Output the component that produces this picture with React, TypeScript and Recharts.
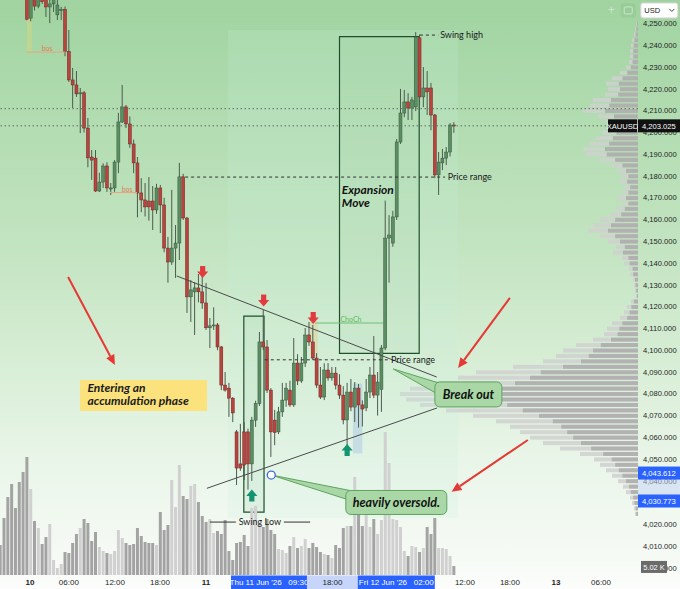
import React from 'react';
import { ComposedChart, Bar, XAxis, YAxis, ReferenceLine, ReferenceArea, ReferenceDot, Cell } from 'recharts';

const W = 680;
const H = 589;
const AXIS_W = 42;
const AXIS_H = 14;
const X_MIN = -7.16;
const X_MAX = 160.2;
const X_RIGHT = 171.2;
const Y_MIN = 3996.8;
const Y_MAX = 4260.8;

// candle index of the first entry (the first 7 are above the visible price range)
const FIRST_INDEX = -7;
// [open, high, low, close] - XAUUSD 30m
const CANDLES: number[][] = [
  [4300, 4303, 4294, 4296], [4296, 4298, 4287, 4289], [4289, 4292, 4281, 4283], [4283, 4286, 4275, 4277],
  [4277, 4280, 4272, 4274], [4275, 4278, 4268, 4270], [4271, 4273, 4265, 4267],
  [4270, 4274, 4251.5, 4252], [4252.5, 4266, 4251, 4263], [4263, 4265, 4256, 4258], [4258, 4266, 4257, 4262],
  [4262, 4265, 4259, 4260], [4262, 4266, 4253, 4257.6], [4257.6, 4262, 4250.2, 4259], [4259, 4265, 4255.3, 4261],
  [4254, 4262, 4251.6, 4258.5], [4255.9, 4257.6, 4251.6, 4256.5], [4256.5, 4257.8, 4235, 4237.1], [4237.1, 4247, 4223.2, 4224.1],
  [4224.1, 4229.6, 4211.2, 4221.8], [4221.8, 4228.2, 4216.3, 4217.7], [4217.7, 4220.4, 4199.7, 4218.2], [4218.2, 4219, 4200, 4202],
  [4202, 4206.6, 4184, 4188.3], [4188.7, 4191.9, 4178.2, 4187.3], [4188.2, 4191.9, 4172.7, 4173.1], [4173.1, 4181.5, 4172.7, 4177.2],
  [4177.2, 4185.8, 4174.5, 4184.6], [4184.6, 4186.3, 4172.7, 4174.5], [4174, 4176.8, 4171.3, 4174.5], [4174.5, 4187.3, 4172.7, 4186.4],
  [4186.4, 4209, 4181.3, 4204.8], [4204.8, 4221.8, 4204.3, 4211.7], [4211.7, 4212.6, 4202, 4203.9], [4203.9, 4207.4, 4192.9, 4194.7],
  [4194.7, 4196.7, 4181.3, 4186], [4186, 4188.7, 4161, 4172.2], [4172.2, 4179, 4163.4, 4169], [4169, 4176.8, 4161.4, 4165.8],
  [4168.5, 4179.5, 4159.5, 4165.8], [4168.5, 4175.4, 4155.2, 4164.4], [4164.4, 4176.4, 4162.6, 4174.5], [4174.5, 4175.9, 4153.8, 4166.7],
  [4166.7, 4170, 4145, 4146.9], [4146.9, 4152, 4131, 4140.5], [4140.5, 4173.6, 4139.2, 4146.9], [4146.9, 4157.5, 4133.2, 4149.2],
  [4149.2, 4186, 4141.4, 4179.6], [4179.6, 4181, 4159.8, 4160.7], [4160.7, 4161.2, 4117.1, 4124.5], [4124.5, 4132.2, 4113, 4127.7],
  [4126.8, 4131.3, 4107, 4128.6], [4128.6, 4135, 4122, 4126.8], [4126.8, 4137.7, 4119, 4121.7], [4121.7, 4130.9, 4109.3, 4110.3],
  [4110.3, 4114.8, 4101, 4111.2], [4111.2, 4119.7, 4109.3, 4111.6], [4111.6, 4112.5, 4100, 4101.5], [4101.5, 4102, 4081.7, 4084],
  [4084, 4090, 4081, 4081.7], [4082.6, 4085, 4069.4, 4078], [4078, 4078.5, 4067, 4071.2], [4062.5, 4063.4, 4038.1, 4045.9],
  [4047.8, 4066.2, 4044.6, 4045.9], [4062.5, 4067, 4040.4, 4047.3], [4062.5, 4064, 4036, 4047.8], [4047.8, 4069.4, 4040, 4067.9],
  [4067.9, 4076.8, 4064.8, 4075.5], [4075.5, 4108.4, 4074.4, 4103.8], [4103.8, 4118.5, 4100.1, 4101.5], [4101.5, 4104.7, 4080.4, 4081.7],
  [4081.7, 4082.6, 4051, 4062.5], [4067.9, 4072.6, 4056.4, 4062.2], [4062.5, 4074, 4061.5, 4071.7], [4071.7, 4085, 4069.4, 4077.1],
  [4077.1, 4085, 4074, 4082.6], [4081.7, 4086, 4074, 4074.9], [4074.9, 4105.6, 4074, 4094.1], [4094.1, 4098.2, 4084, 4085.9],
  [4085.9, 4096.9, 4085, 4094.1], [4094.1, 4110.2, 4092.3, 4107], [4107, 4113, 4102, 4103.8], [4103.8, 4111.6, 4095.5, 4096.4],
  [4096.4, 4098.7, 4082.6, 4084], [4084, 4092.3, 4077.6, 4078.5], [4078.5, 4094, 4077.1, 4090.9], [4090.9, 4094.1, 4086, 4087.3],
  [4087.3, 4092.3, 4086, 4089.5], [4089.5, 4092.3, 4082, 4084], [4084, 4089, 4077.6, 4079.4], [4079.4, 4083.5, 4066, 4068],
  [4068, 4085, 4055.6, 4080.8], [4080.8, 4086.8, 4072, 4073.9], [4073.9, 4085.4, 4067, 4082.6], [4082.6, 4084.5, 4064.5, 4074.9],
  [4074.9, 4077, 4065, 4073], [4073.5, 4086.8, 4072, 4080.8], [4080.8, 4092.3, 4078, 4088.6], [4088.6, 4106.5, 4078, 4079.4],
  [4079.4, 4090, 4070, 4085.4], [4082, 4102.4, 4071.7, 4101], [4101, 4168.7, 4100, 4151.5], [4151.5, 4162, 4131, 4152.9],
  [4149.2, 4164, 4147.5, 4161.2], [4161.2, 4197, 4159.8, 4195.6], [4195.6, 4220, 4194.7, 4208.9], [4208.9, 4219.5, 4207, 4214],
  [4214, 4218, 4205.7, 4211.2], [4211.2, 4216.3, 4205.7, 4214.9], [4211.7, 4246.1, 4209.8, 4243.8], [4243.4, 4245, 4212.5, 4216.3],
  [4216.3, 4230, 4211.6, 4220.4], [4220.4, 4228.2, 4208, 4218.6], [4220.4, 4222.7, 4201, 4208], [4208, 4208.5, 4179, 4180.5],
  [4180.5, 4191, 4171.3, 4186.4], [4186, 4192.4, 4182.7, 4188.2], [4188.2, 4193.3, 4185, 4191], [4191, 4204.3, 4189, 4203.4],
  [4203.4, 4204.7, 4199.8, 4203.0],
];

const VOLUME: number[] = [
  30, 57, 78, 91, 67, 93, 103,
  118, 86, 54, 47, 31, 38, 51, 15, 7, 11, 23, 22, 32, 41, 47, 56, 52, 34, 43, 28, 24, 22, 21, 24,
  45, 37, 32, 30, 31, 47, 39, 33, 32, 32, 30, 63, 45, 50, 95, 68, 110, 79, 76, 89, 91, 73, 59, 53,
  56, 42, 44, 41, 55, 24, 15, 32, 33, 40, 29, 67, 69, 52, 48, 56, 45, 41, 26, 25, 22, 29, 38, 27,
  29, 36, 27, 32, 28, 23, 21, 20, 17, 30, 27, 47, 49, 49, 98, 68, 49, 72, 48, 56, 41, 55, 143, 112,
  56, 55, 48, 24, 19, 29, 28, 23, 27, 48, 41, 57, 27, 27, 26, 19, 9,
];

const PRICE_TICKS = [
  4000, 4010, 4020, 4030, 4040, 4050, 4060, 4070, 4080, 4090, 4100, 4110, 4120,
  4130, 4140, 4150, 4160, 4170, 4180, 4190, 4200, 4210, 4220, 4230, 4240, 4250,
];
const TIME_TICKS = [0.7, 10.9, 23.0, 34.8, 46.9, 114.8, 126.6, 138.7, 150.5];
const TIME_LABELS = ['10', '06:00', '12:00', '18:00', '11', '12:00', '18:00', '13', '06:00'];
const DAY_LABELS = ['10', '11', '13'];

// visible-range volume profile, price bins from the top
const PROFILE_TOP = 4250;
const PROFILE_STEP = 2.5;
const PROFILE_SIZE = [
  2, 3, 4, 6, 7, 8, 8, 9, 12, 18, 26, 32, 30, 33, 45, 48, 55, 40, 32, 30, 36, 42, 48, 55, 52, 38, 26, 20,
  16, 18, 13, 16, 20, 16, 22, 28, 38, 45, 50, 38, 30, 22, 25, 16, 14, 9, 8, 5, 4, 3, 2, 7, 11, 14, 18,
  26, 31, 34, 45, 62, 75, 82, 95, 125, 162, 180, 205, 228, 238, 232, 218, 192, 165, 142, 128, 118, 108,
  95, 78, 58, 44, 38, 32, 26, 20, 15, 12, 8, 6, 4, 3,
];

const LAST_PRICE = 4203.025;
const LEVEL_PRICE = 4210.9;
const CROSS_HIGH = 4043.612;
const CROSS_LOW = 4030.773;

const RED = '#b9443f';
const RED_EDGE = '#6e2623';
const GREEN = '#5b8f63';
const GREEN_EDGE = '#35573b';
const WICK = '#4b5c4e';
const VOL_UP = '#d0d0d0';
const VOL_DOWN = '#a3a3a3';
const ARROW_RED = '#e53935';
const CALLOUT_FILL = '#a9d8a6';
const CALLOUT_STROKE = '#5ea35e';
const AXIS_FONT = '"Liberation Sans", Arial, sans-serif';
const NOTE_FONT = 'Lato, "Open Sans", sans-serif';

const candleData = CANDLES.map(([o, h, l, c], k) => ({
  i: FIRST_INDEX + k, o, h, l, c, range: [l, h], vol: VOLUME[k], up: c >= o,
}));
const profileData = PROFILE_SIZE.map((w, k) => ({ p: PROFILE_TOP - k * PROFILE_STEP, w }));

const CandleShape = (props: any) => {
  const { x, y, width, height, payload } = props;
  if (x == null || y == null || !payload) return null;
  const top = Math.min(y, y + height);
  const hh = Math.abs(height);
  const { o, h, l, c } = payload;
  const ppu = hh / (h - l || 1);
  const bTop = top + (h - Math.max(o, c)) * ppu;
  const bBot = top + (h - Math.min(o, c)) * ppu;
  const up = c >= o;
  const cx = x + width / 2;
  return (
    <g>
      <line x1={cx} x2={cx} y1={top} y2={top + hh} stroke={WICK} strokeWidth={1} />
      <rect x={x} y={bTop} width={width} height={Math.max(1, bBot - bTop)}
        fill={up ? GREEN : RED} stroke={up ? GREEN_EDGE : RED_EDGE} strokeWidth={0.5} />
    </g>
  );
};

const ProfileShape = (props: any) => {
  const { x, y, width, height } = props;
  if (x == null || y == null || !isFinite(width)) return null;
  const left = Math.min(x, x + width);
  const w = Math.abs(width);
  const dark = w * 0.6;
  return (
    <g>
      <rect x={left} y={y} width={w} height={height} fill="rgba(208,208,208,0.85)" />
      <rect x={left + w - dark} y={y} width={dark} height={height} fill="rgba(165,165,165,0.75)" />
    </g>
  );
};

const TimeTick = (props: any) => {
  const { x, payload } = props;
  const k = TIME_TICKS.indexOf(payload.value);
  const label = TIME_LABELS[k] ?? '';
  const bold = DAY_LABELS.includes(label);
  return (
    <text x={x} y={H - 4.5} textAnchor="middle" fontSize={8} fontWeight={bold ? 700 : 400}
      fill="#1e1e1e" fontFamily={AXIS_FONT}>{label}</text>
  );
};

const arrowLine = (p: any) => {
  const { x1, y1, x2, y2 } = p;
  const dx = x2 - x1, dy = y2 - y1;
  const len = Math.hypot(dx, dy) || 1;
  const ux = dx / len, uy = dy / len;
  const hl = 10, hw = 4.5;
  const bx = x2 - ux * hl, by = y2 - uy * hl;
  return (
    <g>
      <line x1={x1} y1={y1} x2={bx} y2={by} stroke={ARROW_RED} strokeWidth={2} />
      <polygon points={`${x2},${y2} ${bx - uy * hw},${by + ux * hw} ${bx + uy * hw},${by - ux * hw}`} fill={ARROW_RED} />
    </g>
  );
};

const wedge = (hw: number) => (p: any) => {
  const { x1, y1, x2, y2 } = p;
  const dx = x2 - x1, dy = y2 - y1;
  const len = Math.hypot(dx, dy) || 1;
  const nx = -dy / len, ny = dx / len;
  return (
    <polygon points={`${x1},${y1} ${x2 + nx * hw},${y2 + ny * hw} ${x2 - nx * hw},${y2 - ny * hw}`}
      fill={CALLOUT_FILL} stroke={CALLOUT_STROKE} strokeWidth={1} />
  );
};

const downArrow = (p: any) => {
  const { cx, cy } = p;
  return (
    <g fill="#e23b3f">
      <rect x={cx - 2.6} y={cy - 6} width={5.2} height={6} />
      <polygon points={`${cx - 5.6},${cy - 0.5} ${cx + 5.6},${cy - 0.5} ${cx},${cy + 6}`} />
    </g>
  );
};

const upArrow = (p: any) => {
  const { cx, cy } = p;
  return (
    <g fill="#13936f">
      <polygon points={`${cx - 5.6},${cy + 0.5} ${cx + 5.6},${cy + 0.5} ${cx},${cy - 6}`} />
      <rect x={cx - 2.6} y={cy} width={5.2} height={6} />
    </g>
  );
};

const noteText = (txt: string, opts: any = {}) => (p: any) => (
  <text x={p.cx + (opts.dx || 0)} y={p.cy + (opts.dy ?? 3)} textAnchor={opts.anchor || 'start'}
    fontSize={opts.size || 9} fill={opts.fill || '#1a1a1a'} fontFamily={NOTE_FONT}
    fontWeight={opts.weight || 400} fontStyle={opts.italic ? 'italic' : 'normal'}>{txt}</text>
);

const calloutBox = (w: number, h: number, text: string) => (p: any) => (
  <g>
    <rect x={p.cx - w / 2} y={p.cy - h / 2} width={w} height={h} rx={5}
      fill={CALLOUT_FILL} stroke={CALLOUT_STROKE} strokeWidth={1} />
    <text x={p.cx} y={p.cy + 4.5} textAnchor="middle" fontSize={12.5} fontWeight={700} fontStyle="italic"
      fill="#111" fontFamily={NOTE_FONT}>{text}</text>
  </g>
);

const accumulationBox = (p: any) => (
  <g>
    <rect x={p.cx - 63.5} y={p.cy - 15.5} width={127} height={31} fill="#fbe27c" />
    <text x={p.cx - 56} y={p.cy - 3.5} fontSize={12} fontWeight={700} fontStyle="italic" fill="#1a1a1a"
      fontFamily={NOTE_FONT}>Entering an</text>
    <text x={p.cx - 56} y={p.cy + 9.5} fontSize={12} fontWeight={700} fontStyle="italic" fill="#1a1a1a"
      fontFamily={NOTE_FONT}>accumulation phase</text>
  </g>
);

const expansionText = (p: any) => (
  <g fontSize={12} fontWeight={700} fontStyle="italic" fill="#111" fontFamily={NOTE_FONT}>
    <text x={p.cx} y={p.cy + 4}>Expansion</text>
    <text x={p.cx} y={p.cy + 17}>Move</text>
  </g>
);

const priceTag = (text: string, fill: string, extra?: string) => (p: any) => (
  <g fontFamily={AXIS_FONT} fontSize={7.6}>
    {extra ? (
      <g>
        <rect x={p.cx - 30} y={p.cy - 6.5} width={29} height={13} fill="#111" />
        <text x={p.cx - 15.5} y={p.cy + 2.7} textAnchor="middle" fill="#fff">{extra}</text>
      </g>
    ) : null}
    <rect x={p.cx} y={p.cy - 6.5} width={AXIS_W} height={13} fill={fill} />
    <text x={p.cx + 4} y={p.cy + 2.7} fill="#fff">{text}</text>
  </g>
);

const volTag = (p: any) => (
  <g fontFamily={AXIS_FONT} fontSize={7.4}>
    <rect x={p.cx + 3} y={p.cy - 6} width={26} height={12} fill="#6b6b6b" />
    <text x={p.cx + 16} y={p.cy + 2.6} textAnchor="middle" fill="#fff">5.02 K</text>
  </g>
);

const usdBox = (p: any) => (
  <g fontFamily={AXIS_FONT}>
    <rect x={p.cx - 18.5} y={p.cy - 7.5} width={37} height={15} rx={2} fill="#fff" stroke="#d4d4d4" />
    <text x={p.cx - 15} y={p.cy + 2.8} fontSize={7.5} fill="#222">USD</text>
    <path d={`M${p.cx + 10},${p.cy - 1.5} L${p.cx + 12.5},${p.cy + 1} L${p.cx + 15},${p.cy - 1.5}`}
      stroke="#444" fill="none" strokeWidth={1} />
  </g>
);

const toolIcons = (p: any) => (
  <g opacity={0.45}>
    <text x={p.cx - 4} y={p.cy + 4} fontSize={12} fill="#ffffff" fontFamily={AXIS_FONT}>+</text>
    <rect x={p.cx + 9} y={p.cy - 7} width={15} height={14} rx={2} fill="#8cc48c" />
    <rect x={p.cx + 12.5} y={p.cy - 3.5} width={8} height={7} rx={1} fill="none" stroke="#ffffff" />
  </g>
);

const timeBox = (w: number, text: string, fill: string, color: string) => (p: any) => (
  <g fontFamily={AXIS_FONT}>
    <rect x={p.cx - w / 2} y={p.cy + 0.5} width={w} height={AXIS_H - 0.5} fill={fill} />
    <text x={p.cx} y={H - 4.5} textAnchor="middle" fontSize={8} fill={color} xmlSpace="preserve">{text}</text>
  </g>
);

const circleMark = (p: any) => (
  <circle cx={p.cx} cy={p.cy} r={4} fill="#ffffff" stroke="#3b6fd6" strokeWidth={1.3} />
);

const A = { xAxisId: 'x', yAxisId: 'p' } as const;
const abs = { position: 'absolute', left: 0, top: 0 } as const;

export default function App() {
  return (
    <div style={{
      position: 'absolute', left: 0, top: 0, width: W, height: H, overflow: 'hidden',
      background: 'linear-gradient(180deg, #a0d3a0 0%, #b0dbaf 18%, #c3e4c1 42%, #d8eed6 62%, #ebf6ea 80%, #f6faf5 95%, #fcfdfc 100%)',
      fontFamily: NOTE_FONT,
    }}>
      {/* volume profile (behind) */}
      <ComposedChart layout="vertical" width={W} height={H} data={profileData}
        margin={{ top: 0, right: AXIS_W, bottom: AXIS_H, left: 0 }} style={abs}>
        <XAxis type="number" domain={[0, W - AXIS_W]} reversed hide allowDataOverflow />
        <YAxis type="number" dataKey="p" domain={[Y_MIN, Y_MAX]} reversed hide allowDataOverflow />
        <Bar dataKey="w" barSize={4} isAnimationActive={false} shape={ProfileShape} />
      </ComposedChart>

      {/* main price chart */}
      <ComposedChart width={W} height={H} data={candleData}
        margin={{ top: 0, right: 0, bottom: 0, left: 0 }} style={abs}>
        <XAxis xAxisId="x" type="number" dataKey="i" domain={[X_MIN, X_MAX]} allowDataOverflow
          ticks={TIME_TICKS} interval={0} tick={TimeTick} tickLine={false} axisLine={false}
          tickSize={0} tickMargin={0} height={AXIS_H} />
        <XAxis xAxisId="vx" type="number" dataKey="i" domain={[X_MIN, X_MAX]} allowDataOverflow hide />
        <YAxis yAxisId="p" orientation="right" type="number" domain={[Y_MIN, Y_MAX]} allowDataOverflow
          ticks={PRICE_TICKS} interval={0} width={AXIS_W} tickLine={false} axisLine={false}
          tickSize={3} tickMargin={2}
          tick={{ fontSize: 7.6, fill: '#1e1e1e', fontFamily: AXIS_FONT }}
          tickFormatter={(v: number) => v.toLocaleString('en-US', { minimumFractionDigits: 3, maximumFractionDigits: 3 })} />
        <YAxis yAxisId="v" type="number" domain={[0, H - AXIS_H]} hide allowDataOverflow />

        {/* background zones */}
        <ReferenceArea {...A} x1={52.6} x2={113.0} y1={4023} y2={4247} fill="rgba(200,238,218,0.4)" stroke="none" ifOverflow="hidden" />
        <ReferenceArea {...A} x1={81.9} x2={102.8} y1={4098.6} y2={4244} fill="rgba(140,200,150,0.16)" stroke="#1f4f2c" strokeWidth={1.2} ifOverflow="hidden" />
        <ReferenceArea {...A} x1={56.8} x2={62.1} y1={4025.7} y2={4115.7} fill="rgba(170,215,180,0.35)" stroke="#1f4f2c" strokeWidth={1.2} ifOverflow="hidden" />
        <ReferenceArea {...A} x1={85.4} x2={87.9} y1={4052.6} y2={4084.8} fill="rgba(110,150,235,0.45)" stroke="none" ifOverflow="hidden" />
        <ReferenceArea {...A} x1={74.2} x2={76.2} y1={4096.4} y2={4113} fill="rgba(245,180,90,0.5)" stroke="none" ifOverflow="hidden" />
        <ReferenceArea {...A} x1={-0.1} x2={1.2} y1={4236.9} y2={Y_MAX} fill="rgba(235,215,110,0.7)" stroke="none" ifOverflow="hidden" />

        <Bar xAxisId="vx" yAxisId="v" dataKey="vol" barSize={3} isAnimationActive={false}>
          {candleData.map((d, k) => <Cell key={k} fill={d.up ? VOL_UP : VOL_DOWN} />)}
        </Bar>
        <Bar xAxisId="x" yAxisId="p" dataKey="range" barSize={3} isAnimationActive={false} shape={CandleShape} />

        {/* levels */}
        <ReferenceLine {...A} y={LEVEL_PRICE} stroke="#5d6d5f" strokeDasharray="1.5 2.5" strokeWidth={1} />
        <ReferenceLine {...A} y={LAST_PRICE} stroke="#5d6d5f" strokeDasharray="1.5 2.5" strokeWidth={1} />
        <ReferenceLine {...A} segment={[{ x: 103.0, y: 4244.7 }, { x: 107.8, y: 4244.7 }]} stroke="#333" strokeDasharray="3 3" ifOverflow="visible" />
        <ReferenceLine {...A} segment={[{ x: 41.4, y: 4179.5 }, { x: 109.6, y: 4179.5 }]} stroke="#333" strokeDasharray="3 3" ifOverflow="visible" />
        <ReferenceLine {...A} segment={[{ x: 62.3, y: 4095.6 }, { x: 94.6, y: 4095.6 }]} stroke="#333" strokeDasharray="3 3" ifOverflow="visible" />
        <ReferenceLine {...A} segment={[{ x: 47.9, y: 4021.1 }, { x: 54.7, y: 4021.1 }]} stroke="#333" ifOverflow="visible" />
        <ReferenceLine {...A} segment={[{ x: 67.3, y: 4021.1 }, { x: 74.2, y: 4021.1 }]} stroke="#333" ifOverflow="visible" />
        <ReferenceLine {...A} segment={[{ x: -0.1, y: 4236.9 }, { x: 9.9, y: 4236.9 }]} stroke="#e8a57c" ifOverflow="visible" />
        <ReferenceLine {...A} segment={[{ x: 21.7, y: 4172.4 }, { x: 28.8, y: 4172.4 }]} stroke="#e8a57c" ifOverflow="visible" />
        <ReferenceLine {...A} segment={[{ x: 75.5, y: 4112.5 }, { x: 93.3, y: 4112.5 }]} stroke="#6cc070" ifOverflow="visible" />

        {/* trend lines */}
        <ReferenceLine {...A} segment={[{ x: 39.2, y: 4134.1 }, { x: 107.4, y: 4087.7 }]} stroke="#4a4a4a" strokeWidth={1} ifOverflow="visible" />
        <ReferenceLine {...A} segment={[{ x: 47.1, y: 4036.6 }, { x: 107.5, y: 4073.5 }]} stroke="#4a4a4a" strokeWidth={1} ifOverflow="visible" />

        {/* red pointer arrows */}
        <ReferenceLine {...A} segment={[{ x: 10.7, y: 4133.6 }, { x: 23.0, y: 4093.2 }]} shape={arrowLine} ifOverflow="visible" />
        <ReferenceLine {...A} segment={[{ x: 126.6, y: 4124.0 }, { x: 113.0, y: 4091.8 }]} shape={arrowLine} ifOverflow="visible" />
        <ReferenceLine {...A} segment={[{ x: 131.3, y: 4058.8 }, { x: 111.3, y: 4035.0 }]} shape={arrowLine} ifOverflow="visible" />

        {/* callout pointers */}
        <ReferenceLine {...A} segment={[{ x: 96.0, y: 4091.4 }, { x: 108.2, y: 4082.2 }]} shape={wedge(5.5)} ifOverflow="visible" />
        <ReferenceLine {...A} segment={[{ x: 64.0, y: 4042.7 }, { x: 84.8, y: 4033.3 }]} shape={wedge(4.8)} ifOverflow="visible" />

        {/* marks */}
        <ReferenceDot {...A} x={46.0} y={4135.9} shape={downArrow} ifOverflow="visible" />
        <ReferenceDot {...A} x={62.0} y={4122.8} shape={downArrow} ifOverflow="visible" />
        <ReferenceDot {...A} x={75.0} y={4114.8} shape={downArrow} ifOverflow="visible" />
        <ReferenceDot {...A} x={58.9} y={4033.3} shape={upArrow} ifOverflow="visible" />
        <ReferenceDot {...A} x={83.9} y={4054.2} shape={upArrow} ifOverflow="visible" />
        <ReferenceDot {...A} x={64.0} y={4042.7} shape={circleMark} ifOverflow="visible" />

        {/* texts */}
        <ReferenceDot {...A} x={108.3} y={4244.7} shape={noteText('Swing high')} ifOverflow="visible" />
        <ReferenceDot {...A} x={110.3} y={4179.5} shape={noteText('Price range')} ifOverflow="visible" />
        <ReferenceDot {...A} x={95.4} y={4095.6} shape={noteText('Price range')} ifOverflow="visible" />
        <ReferenceDot {...A} x={61.0} y={4021.1} shape={noteText('Swing Low', { anchor: 'middle' })} ifOverflow="visible" />
        <ReferenceDot {...A} x={5.2} y={4238.6} shape={noteText('bos', { anchor: 'middle', size: 7, fill: '#e07d58' })} ifOverflow="visible" />
        <ReferenceDot {...A} x={26.2} y={4174.0} shape={noteText('bos', { anchor: 'middle', size: 7, fill: '#e07d58' })} ifOverflow="visible" />
        <ReferenceDot {...A} x={84.9} y={4114.4} shape={noteText('ChoCh', { anchor: 'middle', size: 7, fill: '#5cb860' })} ifOverflow="visible" />
        <ReferenceDot {...A} x={82.5} y={4173.6} shape={expansionText} ifOverflow="visible" />
        <ReferenceDot {...A} x={30.5} y={4079.2} shape={accumulationBox} ifOverflow="visible" />
        <ReferenceDot {...A} x={115.7} y={4079.7} shape={calloutBox(67, 25, 'Break out')} ifOverflow="visible" />
        <ReferenceDot {...A} x={96.8} y={4030.1} shape={calloutBox(101, 24, 'heavily oversold.')} ifOverflow="visible" />
      </ComposedChart>

      {/* axis tags and crosshair labels (on top of the axes) */}
      <ComposedChart width={W} height={H} data={candleData}
        margin={{ top: 0, right: AXIS_W, bottom: AXIS_H, left: 0 }} style={abs}>
        <XAxis xAxisId="x" type="number" dataKey="i" domain={[X_MIN, X_MAX]} allowDataOverflow hide />
        <YAxis yAxisId="p" type="number" domain={[Y_MIN, Y_MAX]} allowDataOverflow hide />
        <ReferenceArea {...A} x1={X_MAX} x2={X_RIGHT} y1={CROSS_LOW} y2={CROSS_HIGH} fill="#c5d4fa" stroke="none" ifOverflow="visible" />
        <ReferenceDot {...A} x={X_MAX} y={LAST_PRICE} shape={priceTag('4,203.025', '#111', 'XAUUSD')} ifOverflow="visible" />
        <ReferenceDot {...A} x={X_MAX} y={CROSS_HIGH} shape={priceTag('4,043.612', '#2962ff')} ifOverflow="visible" />
        <ReferenceDot {...A} x={X_MAX} y={CROSS_LOW} shape={priceTag('4,030.773', '#2962ff')} ifOverflow="visible" />
        <ReferenceDot {...A} x={X_MAX} y={4000.5} shape={volTag} ifOverflow="visible" />
        <ReferenceDot {...A} x={165.8} y={4256.0} shape={usdBox} ifOverflow="visible" />
        <ReferenceDot {...A} x={153.3} y={4256.0} shape={toolIcons} ifOverflow="visible" />
        <ReferenceDot {...A} x={63.4} y={Y_MIN} shape={timeBox(76, "Thu 11 Jun '26   09:30", '#2962ff', '#fff')} ifOverflow="visible" />
        <ReferenceDot {...A} x={80.05} y={Y_MIN} shape={timeBox(51, '18:00', '#c7d5fb', '#1e1e1e')} ifOverflow="visible" />
        <ReferenceDot {...A} x={96.8} y={Y_MIN} shape={timeBox(77, "Fri 12 Jun '26   02:00", '#2962ff', '#fff')} ifOverflow="visible" />
      </ComposedChart>
    </div>
  );
}
